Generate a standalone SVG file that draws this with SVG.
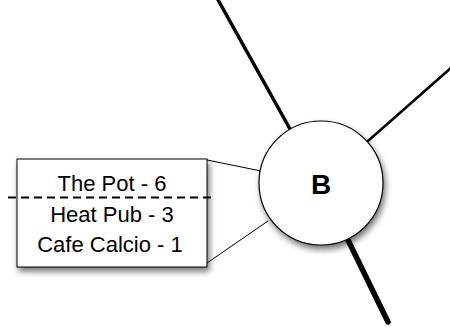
<svg xmlns="http://www.w3.org/2000/svg" width="450" height="329" viewBox="0 0 450 329">
<style>
.edge{stroke:#000;fill:none;stroke-linecap:round}
.label{font-family:"Liberation Sans",Arial,sans-serif;font-size:22px;fill:#000;text-anchor:middle}
.title{font-family:"Liberation Sans",Arial,sans-serif;font-size:28px;font-weight:bold;fill:#000;text-anchor:middle}
</style>
<defs>
<filter id="sh" x="-30%" y="-30%" width="160%" height="170%">
<feDropShadow dx="2" dy="4" stdDeviation="3" flood-color="#000" flood-opacity="0.55"/>
</filter>
</defs>
<rect width="450" height="329" fill="#fff"/>
<g id="connectors">
<line class="edge" x1="217" y1="-2" x2="290" y2="129" stroke-width="3.5"/>
<line class="edge" x1="452" y1="67" x2="368" y2="141" stroke-width="2.5"/>
<line class="edge" x1="348" y1="240" x2="388" y2="322" stroke-width="5.5"/>
<line class="edge" x1="207" y1="160" x2="261" y2="171" stroke-width="1"/>
<line class="edge" x1="207" y1="263" x2="268" y2="221" stroke-width="1"/>
</g>
<g id="node-list">
<rect x="17" y="159" width="190" height="108" fill="#fff" stroke="#000" stroke-width="1" filter="url(#sh)"/>
<text class="label" x="112" y="191">The Pot - 6</text>
<text class="label" x="112" y="222">Heat Pub - 3</text>
<text class="label" x="110" y="252">Cafe Calcio - 1</text>
<line x1="8" y1="197.5" x2="216" y2="197.5" stroke="#000" stroke-width="2" stroke-dasharray="8,5"/>
</g>
<g id="node-B">
<circle cx="321" cy="183" r="62" fill="#fff" stroke="#000" stroke-width="1.2" filter="url(#sh)"/>
<text class="title" x="321" y="194">B</text>
</g>
</svg>
